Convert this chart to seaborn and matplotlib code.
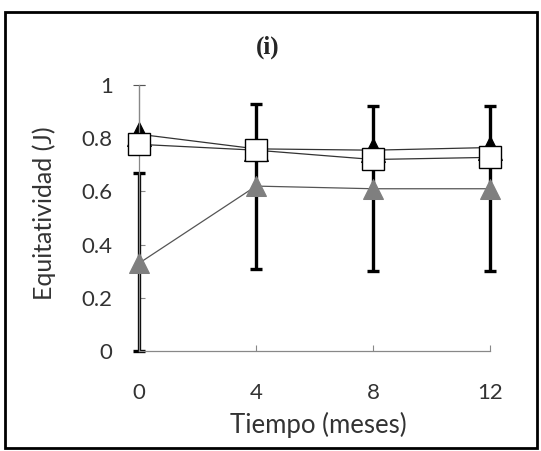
import matplotlib
matplotlib.use("Agg")
import matplotlib.pyplot as plt
from matplotlib.patches import Rectangle
import seaborn as sns
import pandas as pd
import numpy as np

# data
meses = [0, 4, 8, 12]
serie_negra = [0.815, 0.76, 0.755, 0.765]     # black triangles
serie_cuadro = [0.777, 0.755, 0.72, 0.728]    # white squares
serie_gris = [0.33, 0.62, 0.61, 0.61]         # gray triangles
err_gris = [0.34, 0.31, 0.31, 0.31]
err_negra_sup = [0.185, 0.0, 0.0, 0.0]
yticks = [0, 0.2, 0.4, 0.6, 0.8, 1]
ytick_labels = ["0", "0.2", "0.4", "0.6", "0.8", "1"]

sns.set_style("white")
plt.rcParams['font.family'] = ['Lato', 'DejaVu Sans']

fig = plt.figure(figsize=(5.41, 4.51), dpi=100)
ax = fig.add_axes([0.257, 0.2217, 0.649, 0.5898])

# error bars (drawn first, markers go on top)
lower = np.minimum(err_gris, serie_gris)
ax.errorbar(meses, serie_gris, yerr=[lower, err_gris], fmt='none',
            ecolor='black', elinewidth=2.4, capsize=4.5, capthick=2.4,
            zorder=1, clip_on=False)
ax.errorbar(meses[:1], serie_negra[:1], yerr=[[0], err_negra_sup[:1]], fmt='none',
            ecolor='#555555', elinewidth=0.8, capsize=4, capthick=0.8,
            zorder=1, clip_on=False)

df = pd.DataFrame({
    "mes": meses * 3,
    "J": serie_negra + serie_gris + serie_cuadro,
    "serie": ["negra"] * 4 + ["gris"] * 4 + ["cuadro"] * 4,
})

sns.lineplot(data=df[df.serie == "negra"], x="mes", y="J", ax=ax,
             color="#333333", lw=0.9, marker="^", markersize=17,
             markerfacecolor="black", markeredgecolor="black",
             zorder=2, clip_on=False)
sns.lineplot(data=df[df.serie == "gris"], x="mes", y="J", ax=ax,
             color="#555555", lw=0.9, marker="^", markersize=15,
             markerfacecolor="#7f7f7f", markeredgecolor="#7f7f7f",
             zorder=3, clip_on=False)
sns.lineplot(data=df[df.serie == "cuadro"], x="mes", y="J", ax=ax,
             color="#333333", lw=0.9, marker="s", markersize=16,
             markerfacecolor="white", markeredgecolor="black",
             markeredgewidth=1.0, zorder=4, clip_on=False)

ax.set_xlim(0, 12)
ax.set_ylim(0, 1)
ax.set_xticks(meses)
ax.set_xticklabels([str(m) for m in meses])
ax.set_yticks(yticks)
ax.set_yticklabels(ytick_labels)
ax.tick_params(axis='both', direction='in', length=4, width=0.8,
               color='#888888', labelsize=16, labelcolor='#333333')
ax.tick_params(axis='x', pad=23)
ax.tick_params(axis='y', pad=19)
ax.tick_params(left=True, bottom=True)

for s in ['top', 'right']:
    ax.spines[s].set_visible(False)
for s in ['left', 'bottom']:
    ax.spines[s].set_color('#888888')
    ax.spines[s].set_linewidth(0.9)

ax.set_xlabel("Tiempo (meses)", fontsize=18.5, color='#333333', va='center')
ax.set_ylabel("Equitatividad (J)", fontsize=18, color='#333333', va='center')
ax.xaxis.set_label_coords(0.51, -0.278)
ax.yaxis.set_label_coords(-0.27, 0.519)

fig.text(0.495, 0.895, "(i)", fontsize=18, fontweight='bold',
         family='Liberation Serif', ha='center', va='center')

# outer frame
fig.patches.append(Rectangle((5 / 541, 3 / 451), 532 / 541, 436 / 451,
                             transform=fig.transFigure, fill=False,
                             edgecolor='black', lw=2))

fig.savefig("out.png", dpi=100)
